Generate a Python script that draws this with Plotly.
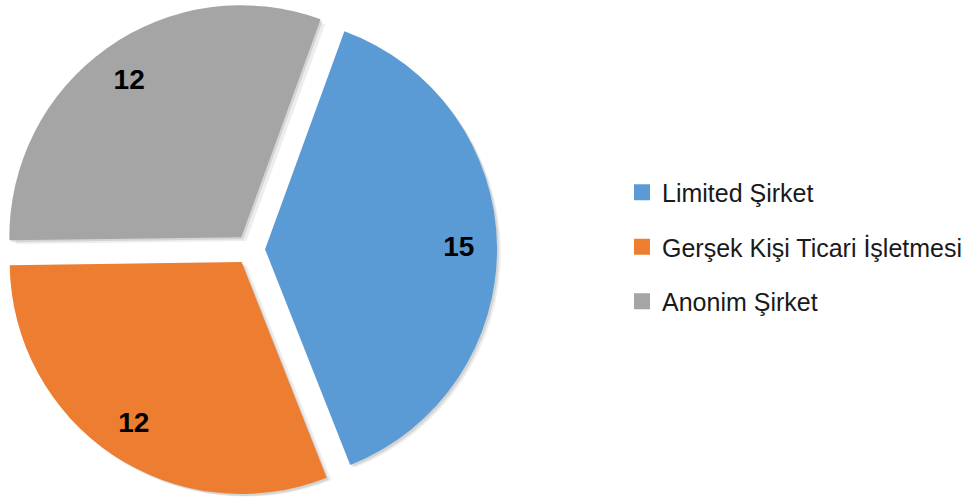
import plotly.graph_objects as go

categories = ["Limited Şirket", "Gerşek Kişi Ticari İşletmesi", "Anonim Şirket"]
values = [15, 12, 12]
colors = ["#5B9BD5", "#ED7D31", "#A5A5A5"]

W, H = 968, 499
PULL = 0.065
main_domain = dict(x=[3 / W, 497 / W], y=[0.005, 0.995])
shadow_domains = [
    dict(x=[5 / W, 499 / W], y=[0.001, 0.991]),
    dict(x=[8 / W, 502 / W], y=[0.0, 0.985]),
]

fig = go.Figure()

# soft drop shadow (two faint layers)
for dom, alpha in zip(shadow_domains, [0.10, 0.07]):
    fig.add_trace(go.Pie(
        labels=categories, values=values, sort=False,
        direction="clockwise", rotation=20,
        pull=[PULL] * len(values),
        marker=dict(colors=[f"rgba(0,0,0,{alpha})"] * len(values), line=dict(width=0)),
        textinfo="none", domain=dom, showlegend=False, hoverinfo="skip",
    ))

# main pie
fig.add_trace(go.Pie(
    labels=categories, values=values, sort=False,
    direction="clockwise", rotation=20,
    pull=[PULL] * len(values),
    marker=dict(colors=colors, line=dict(width=0)),
    textinfo="none", domain=main_domain, showlegend=False,
    hoverinfo="label+value",
))

# value labels placed near the outer rim via a transparent ring
fig.add_trace(go.Pie(
    labels=categories, values=values, sort=False,
    direction="clockwise", rotation=20, hole=0.67,
    pull=[PULL] * len(values),
    marker=dict(colors=["rgba(0,0,0,0)"] * len(values), line=dict(width=0)),
    textinfo="value", textposition="inside",
    insidetextorientation="horizontal",
    textfont=dict(family="Liberation Sans", size=28, color="black", weight="bold"),
    domain=main_domain, showlegend=False, hoverinfo="skip",
))

# legend entries
for name, col in zip(categories, colors):
    fig.add_trace(go.Scatter(
        x=[None], y=[None], mode="markers", name=name,
        marker=dict(symbol="square", size=18, color=col),
        legendgroup=name, showlegend=True,
    ))

fig.update_layout(
    width=W, height=H,
    margin=dict(l=0, r=0, t=0, b=0),
    paper_bgcolor="white", plot_bgcolor="white",
    xaxis=dict(visible=False), yaxis=dict(visible=False),
    legend=dict(
        x=622 / W, xanchor="left", y=0.505, yanchor="middle",
        font=dict(family="Liberation Sans", size=25, color="#1a1a1a"),
        tracegroupgap=19, itemsizing="trace",
        bgcolor="rgba(0,0,0,0)",
    ),
)

fig.write_html("out.html", config={"displayModeBar": False},
               post_script="document.body.style.margin='0';")
